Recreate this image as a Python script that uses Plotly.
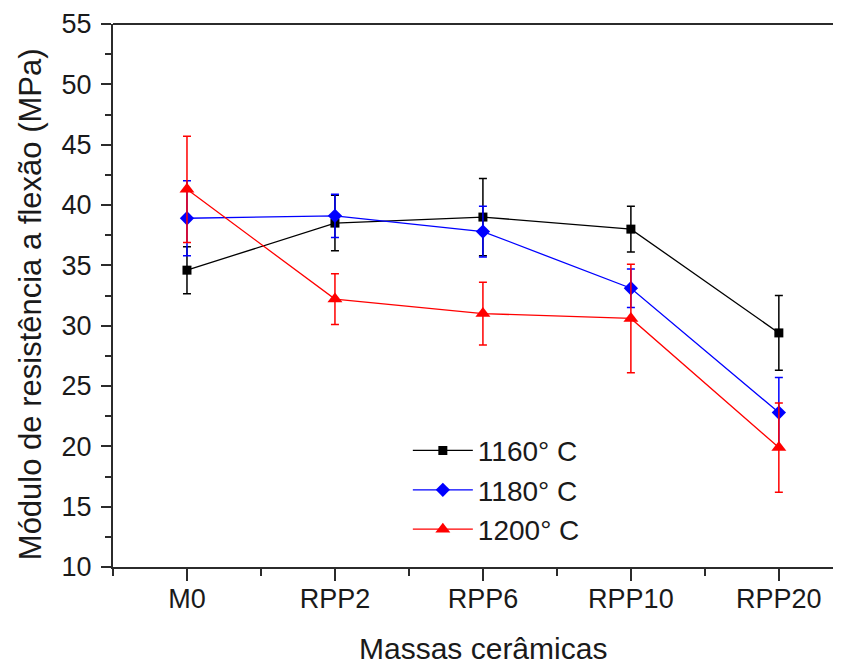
import plotly.graph_objects as go

categories = ["M0", "RPP2", "RPP6", "RPP10", "RPP20"]
series_names = ["1160° C", "1180° C", "1200° C"]

mean_1160 = [34.6, 38.5, 39.0, 38.0, 29.4]
err_1160 = [1.95, 2.3, 3.2, 1.9, 3.1]

mean_1180 = [38.9, 39.1, 37.8, 33.1, 22.8]
err_1180 = [3.1, 1.8, 2.1, 1.6, 2.9]

mean_1200 = [41.3, 32.2, 31.0, 30.6, 19.9]
err_1200 = [4.4, 2.1, 2.6, 4.5, 3.7]

y_ticks = [10, 15, 20, 25, 30, 35, 40, 45, 50, 55]

FONT = "Liberation Sans, Arial, sans-serif"
TXT = "#1a1a1a"
AX = "#2b2b2b"

x_pos = list(range(len(categories)))

styles = [
    ("#000000", "square", 9),
    ("#0000FF", "diamond", 11),
    ("#FF0000", "triangle-up", 13),
]
means = [mean_1160, mean_1180, mean_1200]
errs = [err_1160, err_1180, err_1200]

fig = go.Figure()
for name, m, e, (col, sym, sz) in zip(series_names, means, errs, styles):
    fig.add_trace(go.Scatter(
        x=x_pos, y=m, name=name, mode="lines+markers",
        line=dict(color=col, width=1.3),
        marker=dict(color=col, symbol=sym, size=sz, line=dict(width=0)),
        error_y=dict(type="data", array=e, visible=True, color=col,
                     thickness=1.5, width=4),
    ))

fig.update_layout(
    width=833, height=658,
    margin=dict(l=105, r=0, t=16, b=99),
    paper_bgcolor="white", plot_bgcolor="white",
    font=dict(family=FONT, color=TXT, size=27),
    showlegend=True,
    legend=dict(
        x=0.405, y=0.2602, xanchor="left", yanchor="top",
        bgcolor="rgba(0,0,0,0)", borderwidth=0,
        font=dict(family=FONT, size=28, color=TXT),
        itemwidth=60,
    ),
    xaxis=dict(
        range=[-0.5, 4.42],
        tickmode="array", tickvals=x_pos, ticktext=categories,
        ticks="outside", ticklen=12, tickwidth=2, tickcolor=AX,
        minor=dict(tickvals=[-0.5, 0.5, 1.5, 2.5, 3.5],
                   ticks="outside", ticklen=7, tickwidth=2, tickcolor=AX),
        showline=True, linecolor=AX, linewidth=2,
        showgrid=False, zeroline=False,
        tickfont=dict(family=FONT, size=27, color=TXT),
        ticklabelstandoff=-5,
    ),
    yaxis=dict(
        range=[10, 55],
        tickmode="array", tickvals=y_ticks,
        ticks="outside", ticklen=10, tickwidth=2, tickcolor=AX,
        minor=dict(dtick=2.5, ticks="outside", ticklen=6, tickwidth=2, tickcolor=AX),
        showline=True, linecolor=AX, linewidth=2,
        showgrid=False, zeroline=False,
        tickfont=dict(family=FONT, size=27, color=TXT),
        ticklabelstandoff=4,
    ),
    shapes=[dict(type="line", xref="paper", yref="paper", x0=0, x1=1, y0=1, y1=1,
                 line=dict(color=AX, width=2))],
    annotations=[
        dict(text="Massas cerâmicas", xref="x", yref="paper", x=2, y=-0.151,
             xanchor="center", yanchor="middle", showarrow=False,
             font=dict(family=FONT, size=30, color=TXT)),
        dict(text="Módulo de resistência a flexão (MPa)", xref="paper", yref="paper",
             x=-0.114, y=0.484, xanchor="center", yanchor="middle", textangle=-90,
             showarrow=False, font=dict(family=FONT, size=31, color=TXT)),
    ],
)

fig.write_html("out.html")
